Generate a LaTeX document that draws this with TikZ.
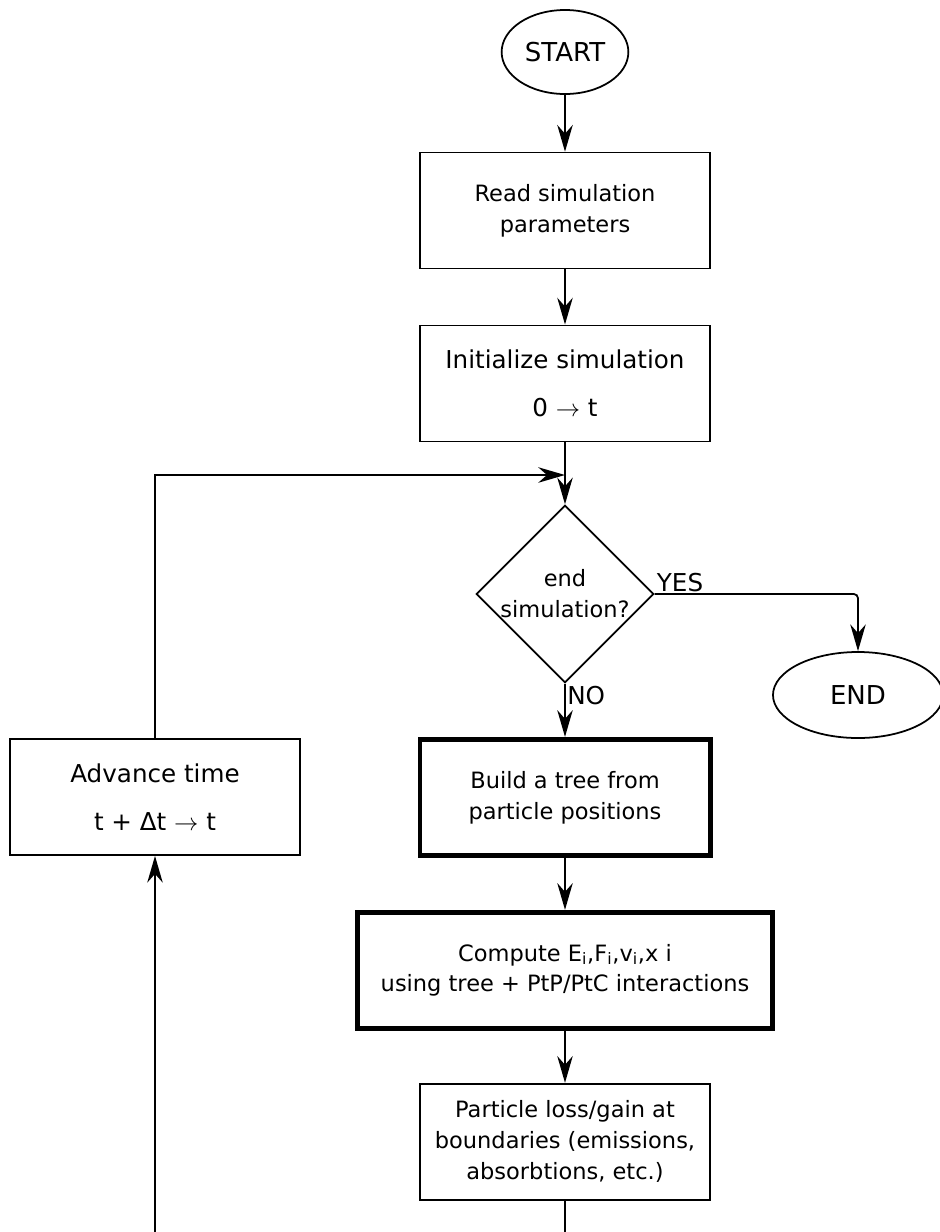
\documentclass[tikz,border=0pt]{standalone}
\usepackage{fontspec}
\setmainfont{DejaVu Sans}
\usetikzlibrary{arrows.meta,positioning,shapes.geometric}

\begin{document}
\begin{tikzpicture}[x=0.025cm, y=-0.025cm,
  line width=1.25pt,
  proc/.style={rectangle, draw, align=center, minimum width=7.25cm, minimum height=2.9cm, font=\fontsize{16}{22}\selectfont},
  bigproc/.style={proc, font=\fontsize{17.5}{34.5}\selectfont},
  heavy/.style={proc, line width=3.5pt},
  term/.style={ellipse, draw, font=\fontsize{18.5}{22}\selectfont},
  decide/.style={diamond, draw, align=center, minimum width=4.35cm, minimum height=4.3cm, inner sep=0pt, font=\fontsize{16}{22}\selectfont},
  arr/.style={-{Stealth[length=19pt,width=11pt]}},
  lbl/.style={font=\fontsize{17.5}{20}\selectfont, inner sep=1pt},
  node distance=1.45cm
]
\useasboundingbox (0,0) rectangle (940,1232);

\node[term, minimum width=3.15cm, minimum height=2.1cm] (start) at (565,52) {START};
\node[proc, below=1.42cm of start] (read) {Read simulation\\parameters};
\node[bigproc, below=1.375cm of read] (init) {Initialize simulation\\0 $\rightarrow$ t};
\node[decide, below=1.55cm of init] (endq) {end\\simulation?};
\node[heavy, below=1.33cm of endq] (tree) {Build a tree from\\particle positions};
\node[heavy, below=1.3cm of tree, minimum width=10.35cm] (force) {Compute E\textsubscript{i},F\textsubscript{i},v\textsubscript{i},x i\\using tree + PtP/PtC interactions};
\node[proc, below=1.3cm of force] (bound) {Particle loss/gain at\\boundaries (emissions,\\absorbtions, etc.)};

\node[bigproc] (adv) at (155,797) {Advance time\\t + Δt $\rightarrow$ t};
\node[term, minimum width=4.25cm, minimum height=2.15cm] (stop) at (858,695) {END};

\coordinate (join) at (565,475);
\coordinate (out) at (565,1232);
\coordinate (back) at (155,1232);

\draw[arr] (start) -- (read);
\draw[arr] (read) -- (init);
\draw[arr] (init) -- (endq);
\draw[arr, rounded corners=3pt] (endq.east) -| (stop);
\draw[arr] (endq) -- (tree);
\draw[arr] (tree) -- (force);
\draw[arr] (force) -- (bound);
\draw (bound) -- (out);
\draw[arr] (back) -- (adv);
\draw[arr] (adv) |- (join);

\node[lbl, anchor=south west] (yes) at (endq.east) {YES};
\node[lbl, anchor=north west] (no) at (endq.south) {NO};
\end{tikzpicture}
\end{document}
